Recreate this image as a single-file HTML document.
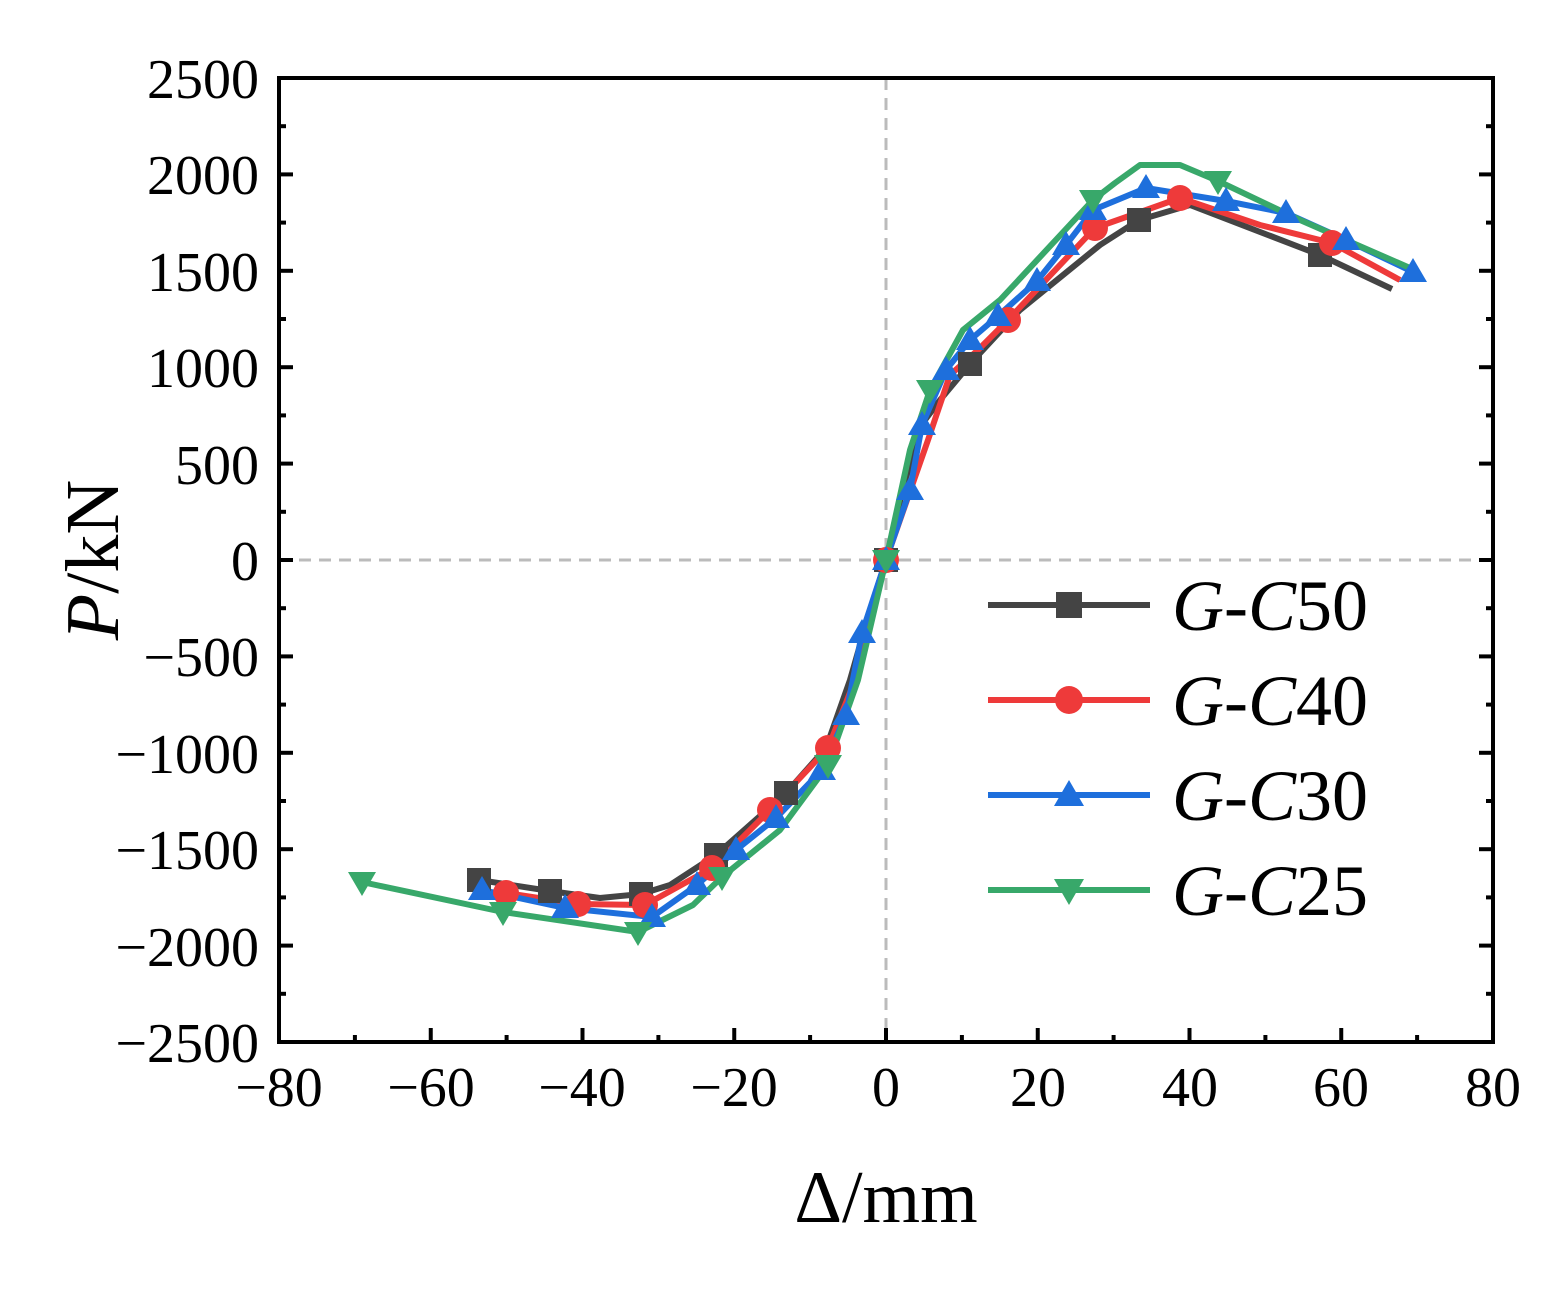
<!DOCTYPE html>
<html><head><meta charset="utf-8"><style>body{margin:0;background:#fff}</style></head><body>
<svg width="1568" height="1284" xmlns="http://www.w3.org/2000/svg" font-family="Liberation Serif, serif">
<rect width="1568" height="1284" fill="#fff"/>
<line x1="279" y1="560" x2="1493" y2="560" stroke="#bbb" stroke-width="3" stroke-dasharray="12,8"/>
<line x1="886" y1="78" x2="886" y2="1042" stroke="#bbb" stroke-width="3" stroke-dasharray="12,8"/>
<g stroke="#000" stroke-width="4">
<g id="yt">
<line x1="279" y1="174.4" x2="293" y2="174.4"/><line x1="279" y1="270.8" x2="293" y2="270.8"/><line x1="279" y1="367.2" x2="293" y2="367.2"/><line x1="279" y1="463.6" x2="293" y2="463.6"/><line x1="279" y1="560" x2="293" y2="560"/><line x1="279" y1="656.4" x2="293" y2="656.4"/><line x1="279" y1="752.8" x2="293" y2="752.8"/><line x1="279" y1="849.2" x2="293" y2="849.2"/><line x1="279" y1="945.6" x2="293" y2="945.6"/>
<line x1="279" y1="126.2" x2="286" y2="126.2"/><line x1="279" y1="222.6" x2="286" y2="222.6"/><line x1="279" y1="319" x2="286" y2="319"/><line x1="279" y1="415.4" x2="286" y2="415.4"/><line x1="279" y1="511.8" x2="286" y2="511.8"/><line x1="279" y1="608.2" x2="286" y2="608.2"/><line x1="279" y1="704.6" x2="286" y2="704.6"/><line x1="279" y1="801" x2="286" y2="801"/><line x1="279" y1="897.4" x2="286" y2="897.4"/><line x1="279" y1="993.8" x2="286" y2="993.8"/>
</g>
<use href="#yt" transform="translate(1772,0) scale(-1,1)"/>
<line x1="430.75" y1="1042" x2="430.75" y2="1028"/><line x1="582.5" y1="1042" x2="582.5" y2="1028"/><line x1="734.25" y1="1042" x2="734.25" y2="1028"/><line x1="886" y1="1042" x2="886" y2="1028"/><line x1="1037.75" y1="1042" x2="1037.75" y2="1028"/><line x1="1189.5" y1="1042" x2="1189.5" y2="1028"/><line x1="1341.25" y1="1042" x2="1341.25" y2="1028"/>
<line x1="354.9" y1="1042" x2="354.9" y2="1035"/><line x1="506.6" y1="1042" x2="506.6" y2="1035"/><line x1="658.4" y1="1042" x2="658.4" y2="1035"/><line x1="810.1" y1="1042" x2="810.1" y2="1035"/><line x1="961.9" y1="1042" x2="961.9" y2="1035"/><line x1="1113.6" y1="1042" x2="1113.6" y2="1035"/><line x1="1265.4" y1="1042" x2="1265.4" y2="1035"/><line x1="1417.1" y1="1042" x2="1417.1" y2="1035"/>
<rect x="279" y="78" width="1214" height="964" fill="none"/>
</g>
<g font-size="56" text-anchor="end" fill="#000">
<text x="259" y="98">2500</text><text x="259" y="194">2000</text><text x="259" y="291">1500</text><text x="259" y="387">1000</text><text x="259" y="484">500</text><text x="259" y="580">0</text><text x="259" y="676">−500</text><text x="259" y="773">−1000</text><text x="259" y="869">−1500</text><text x="259" y="966">−2000</text><text x="259" y="1062">−2500</text>
</g>
<g font-size="56" text-anchor="middle" fill="#000">
<text x="279" y="1106">−80</text><text x="431" y="1106">−60</text><text x="582" y="1106">−40</text><text x="734" y="1106">−20</text><text x="886" y="1106">0</text><text x="1038" y="1106">20</text><text x="1190" y="1106">40</text><text x="1341" y="1106">60</text><text x="1493" y="1106">80</text>
</g>
<text x="886" y="1222" font-size="74" text-anchor="middle">Δ/mm</text>
<text transform="translate(118,560) rotate(-90)" font-size="76" text-anchor="middle"><tspan font-style="italic">P</tspan>/kN</text>
<g fill="none" stroke-width="6" stroke-linejoin="round">
<polyline stroke="#444" points="479,880 550,891 600,898 641,894 670,885 716,855 786,793 826,748 850,680 870,610 886,560 905,480 925,420 940,400 970,364 1020,310 1100,245 1139,220 1190,205 1320,255 1392,289"/>
<polyline stroke="#ee3a3a" points="506,893 578,904 645,905 712,868 770,810 828,748 855,680 886,560 928,440 950,375 978,350 1008,320 1095,228 1180,198 1260,225 1332,243 1400,280"/>
<polyline stroke="#1e6fdc" points="482,890 565,908 652,917 697,885 736,850 776,818 822,770 846,715 862,633 886,560 910,490 922,425 946,370 970,340 998,316 1037,281 1066,245 1093,210 1146,188 1226,201 1286,213 1346,240 1413,272"/>
<polyline stroke="#38a86a" points="362,882 503,912 638,932 693,905 722,877 780,830 828,765 858,680 886,560 910,450 930,390 963,330 1000,300 1093,200 1115,183 1140,165 1180,165 1218,181 1300,220 1410,268"/>
</g>
<g fill="#444">
<rect x="467" y="868" width="24" height="24"/><rect x="538" y="879" width="24" height="24"/><rect x="629" y="882" width="24" height="24"/><rect x="704" y="843" width="24" height="24"/><rect x="774" y="781" width="24" height="24"/><rect x="874" y="548" width="24" height="24"/><rect x="958" y="352" width="24" height="24"/><rect x="1127" y="208" width="24" height="24"/><rect x="1308" y="243" width="24" height="24"/>
</g>
<g fill="#ee3a3a">
<circle cx="506" cy="893" r="13"/><circle cx="578" cy="904" r="13"/><circle cx="645" cy="905" r="13"/><circle cx="712" cy="868" r="13"/><circle cx="770" cy="810" r="13"/><circle cx="828" cy="748" r="13"/><circle cx="886" cy="560" r="13"/><circle cx="1008" cy="320" r="13"/><circle cx="1095" cy="228" r="13"/><circle cx="1180" cy="198" r="13"/><circle cx="1332" cy="243" r="13"/>
</g>
<g fill="#1e6fdc">
<path d="M482,876l14,24h-28z"/><path d="M565,894l14,24h-28z"/><path d="M652,903l14,24h-28z"/><path d="M697,871l14,24h-28z"/><path d="M736,836l14,24h-28z"/><path d="M776,804l14,24h-28z"/><path d="M822,756l14,24h-28z"/><path d="M846,701l14,24h-28z"/><path d="M862,619l14,24h-28z"/><path d="M886,546l14,24h-28z"/><path d="M910,476l14,24h-28z"/><path d="M922,411l14,24h-28z"/><path d="M946,356l14,24h-28z"/><path d="M970,326l14,24h-28z"/><path d="M998,302l14,24h-28z"/><path d="M1037,267l14,24h-28z"/><path d="M1066,231l14,24h-28z"/><path d="M1093,196l14,24h-28z"/><path d="M1146,174l14,24h-28z"/><path d="M1226,187l14,24h-28z"/><path d="M1286,199l14,24h-28z"/><path d="M1346,226l14,24h-28z"/><path d="M1413,258l14,24h-28z"/>
</g>
<g fill="#38a86a">
<path d="M362,896l14,-24h-28z"/><path d="M503,926l14,-24h-28z"/><path d="M638,946l14,-24h-28z"/><path d="M722,891l14,-24h-28z"/><path d="M828,779l14,-24h-28z"/><path d="M886,574l14,-24h-28z"/><path d="M930,404l14,-24h-28z"/><path d="M1093,214l14,-24h-28z"/><path d="M1218,195l14,-24h-28z"/>
</g>
<g stroke-width="6">
<line x1="988" y1="605" x2="1150" y2="605" stroke="#444"/>
<line x1="988" y1="700" x2="1150" y2="700" stroke="#ee3a3a"/>
<line x1="988" y1="795" x2="1150" y2="795" stroke="#1e6fdc"/>
<line x1="988" y1="890" x2="1150" y2="890" stroke="#38a86a"/>
</g>
<rect x="1056" y="592" width="26" height="26" fill="#444"/>
<circle cx="1069" cy="700" r="14" fill="#ee3a3a"/>
<path d="M1069,780l15,26h-30z" fill="#1e6fdc"/>
<path d="M1069,905l15,-26h-30z" fill="#38a86a"/>
<g font-size="72" fill="#000">
<text x="1172" y="630"><tspan font-style="italic">G-C</tspan>50</text>
<text x="1172" y="725"><tspan font-style="italic">G-C</tspan>40</text>
<text x="1172" y="820"><tspan font-style="italic">G-C</tspan>30</text>
<text x="1172" y="915"><tspan font-style="italic">G-C</tspan>25</text>
</g>
</svg>
</body></html>
